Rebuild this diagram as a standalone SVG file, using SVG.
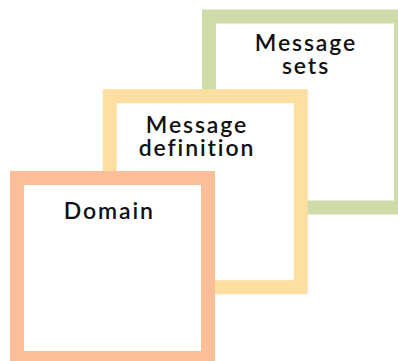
<svg xmlns="http://www.w3.org/2000/svg" width="398" height="361" viewBox="0 0 398 361">
<style>
.box{fill:#ffffff;stroke-width:14}
.lbl{font-family:Lato,"Liberation Sans",sans-serif;font-size:23px;font-weight:600;letter-spacing:1.9px;fill:#111111;text-anchor:middle}
</style>
<rect width="398" height="361" fill="#ffffff"/>
<g id="message-sets">
<rect class="box" x="209" y="16.5" width="192" height="191" stroke="#cfdba9"/>
<text class="lbl" x="306" y="51">Message<tspan x="306" dy="23">sets</tspan></text>
</g>
<g id="message-definition">
<rect class="box" x="109.7" y="96.2" width="191" height="191" stroke="#fddfa1"/>
<text class="lbl" x="197" y="132.7">Message<tspan x="197" dy="23.3">definition</tspan></text>
</g>
<g id="domain">
<rect class="box" x="17" y="178" width="191" height="180" stroke="#fbbe98"/>
<text class="lbl" x="109.3" y="219.3">Domain</text>
</g>
<g id="connectors"></g>
</svg>
